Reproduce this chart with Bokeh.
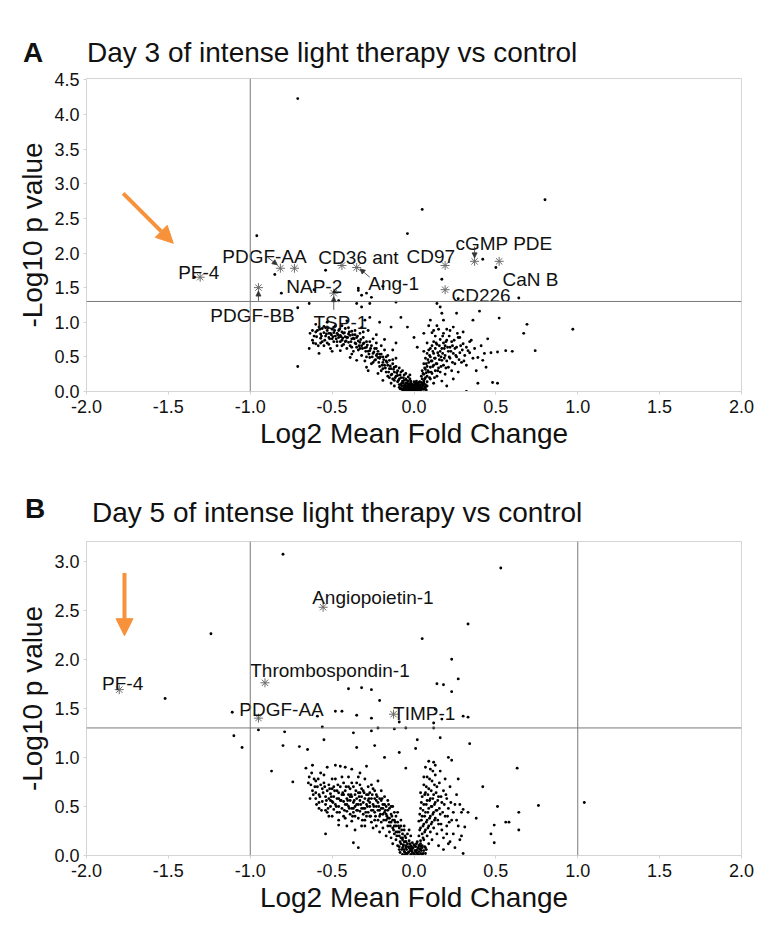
from bokeh.plotting import figure
from bokeh.layouts import column
from bokeh.models import Range1d, Span, Arrow, NormalHead, ColumnDataSource, FixedTicker, Div
from bokeh.embed import file_html
from bokeh.resources import INLINE
from bokeh.core.properties import value

FONT = "Liberation Sans"

# ---------------- Panel A data (Day 3) ----------------
A_scatter = [(-0.71,4.23),(0.80,2.77),(0.05,2.63),(-0.04,2.28),(-0.96,2.25),(-1.34,1.65),(-0.85,1.69),
             (-0.81,1.42),(-0.71,1.21),(-0.71,0.36),(-0.61,1.47),(-0.64,1.27),(-0.54,1.75),(-0.46,1.31),
             (-0.34,1.49),(-0.32,1.39),(-0.19,1.52),(0.17,1.62),(0.27,1.34),(0.42,1.91),(0.50,1.79),
             (0.64,1.35),(0.97,0.90),(0.69,0.97),(0.67,0.84),(0.52,1.06),(0.40,1.16),(0.74,0.59),
             (0.60,0.58),(0.56,0.59),(0.51,0.57),(0.48,0.13),(0.51,0.12),(0.39,0.12),(0.45,0.76),
             (0.32,0.00),(-0.26,1.36),(-0.29,1.42),(-0.35,1.27),(-0.32,1.22),(-0.34,1.46),(-0.27,1.27),
             (-0.11,1.29),(0.47,0.56)]
A_left_arm = [(-0.64,0.62),(-0.62,0.74),(-0.61,0.80),(-0.60,0.69),(-0.59,0.88),(-0.58,0.93),(-0.58,0.55),
              (-0.57,0.83),(-0.56,0.91),(-0.56,0.72),(-0.55,0.85),(-0.55,0.66),(-0.62,0.88),(-0.60,0.97),
              (-0.57,0.77),(-0.54,0.80),(-0.54,0.92),(-0.53,0.88),(-0.53,0.70),(-0.52,0.78),(-0.52,0.84),
              (-0.51,0.84),(-0.51,0.62),(-0.50,0.90),(-0.50,0.76),(-0.49,0.85),(-0.49,0.72),(-0.48,0.80),
              (-0.48,0.95),(-0.47,0.84),(-0.47,0.66),(-0.46,0.78),(-0.46,0.88),(-0.45,0.81),(-0.45,0.59),
              (-0.45,0.72),(-0.53,1.00),(-0.50,0.58),(-0.44,0.86),(-0.44,0.74),(-0.43,0.84),(-0.43,0.68),
              (-0.42,0.79),(-0.42,0.91),(-0.41,0.78),(-0.41,0.62),(-0.40,0.83),(-0.40,0.71),(-0.39,0.81),
              (-0.39,0.49),(-0.39,0.66),(-0.38,0.76),(-0.38,0.87),(-0.37,0.77),(-0.37,0.58),(-0.36,0.70),
              (-0.36,0.82),(-0.35,0.78),(-0.35,0.45),(-0.35,0.64),(-0.44,0.95),(-0.41,1.02),(-0.38,0.54),
              (-0.34,0.73),(-0.34,0.60),(-0.33,0.71),(-0.33,0.84),(-0.32,0.66),(-0.32,0.52),(-0.31,0.69),
              (-0.31,0.78),(-0.30,0.63),(-0.30,1.03),(-0.30,0.44),(-0.29,0.64),(-0.29,0.35),(-0.29,0.72),
              (-0.28,0.58),(-0.28,0.88),(-0.27,0.59),(-0.27,1.07),(-0.27,0.49),(-0.26,0.66),(-0.26,0.40),
              (-0.25,0.55),(-0.25,0.76),(-0.32,0.92),(-0.28,0.30),(-0.24,0.62),(-0.24,0.45),(-0.23,0.52),
              (-0.23,0.70),(-0.22,0.49),(-0.22,0.26),(-0.22,0.58),(-0.21,0.48),(-0.21,1.00),(-0.21,0.36),
              (-0.20,0.54),(-0.20,0.66),(-0.20,0.30),(-0.19,0.42),(-0.19,0.16),(-0.19,0.50),(-0.18,0.38),
              (-0.18,0.60),(-0.17,0.44),(-0.17,0.28),(-0.16,0.38),(-0.16,0.22),(-0.16,0.52),(-0.15,0.33),
              (-0.15,0.45),(-0.23,0.82),(-0.18,0.75),(-0.14,0.33),(-0.14,0.12),(-0.14,0.93),(-0.14,0.24),
              (-0.13,0.40),(-0.13,0.18),(-0.12,0.28),(-0.12,0.35),(-0.12,0.08),(-0.11,0.22),(-0.11,0.48),
              (-0.10,0.23),(-0.10,0.14),(-0.10,0.30),(-0.09,0.18),(-0.09,0.06),(-0.08,0.20),(-0.08,1.07),
              (-0.08,0.10),(-0.08,0.28),(-0.07,0.15),(-0.07,0.04),(-0.06,0.16),(-0.06,0.08),(-0.06,0.24),
              (-0.05,0.12),(-0.05,0.03),(-0.05,0.18),(-0.13,0.60),(-0.11,0.70),(-0.04,0.93),(0.00,0.78),
              (0.02,0.64)]
A_left_band = [(-0.635,0.84),(-0.615,0.70),(-0.595,0.79),(-0.585,0.66),(-0.575,0.90),(-0.565,0.80),
               (-0.545,0.74),(-0.535,0.83),(-0.525,0.92),(-0.515,0.76),(-0.505,0.82),(-0.495,0.79),
               (-0.485,0.88),(-0.475,0.76),(-0.465,0.82),(-0.455,0.90),(-0.445,0.79),(-0.435,0.77),
               (-0.425,0.85),(-0.415,0.73),(-0.405,0.78),(-0.395,0.86),(-0.385,0.72),(-0.375,0.82),
               (-0.365,0.76),(-0.355,0.69),(-0.345,0.80),(-0.335,0.66),(-0.325,0.75),(-0.315,0.62),
               (-0.305,0.70),(-0.295,0.58),(-0.285,0.67),(-0.275,0.54),(-0.265,0.62),(-0.255,0.50),
               (-0.245,0.57),(-0.235,0.46),(-0.225,0.54),(-0.215,0.42),(-0.205,0.50),(-0.195,0.38),
               (-0.185,0.46),(-0.175,0.34),(-0.165,0.42),(-0.155,0.28),(-0.145,0.37),(-0.135,0.25),
               (-0.125,0.32),(-0.115,0.20),(-0.105,0.27),(-0.095,0.16),(-0.085,0.24),(-0.075,0.12),
               (-0.065,0.20),(-0.055,0.09),(-0.045,0.16),(-0.035,0.21),(-0.025,0.24),
               (-0.60,0.86),(-0.57,0.70),(-0.55,0.94),(-0.52,0.68),(-0.49,0.93),(-0.47,0.72),(-0.44,0.66),
               (-0.42,0.72),(-0.40,0.92),(-0.38,0.64),(-0.36,0.88),(-0.33,0.62),(-0.31,0.86),(-0.29,0.50),
               (-0.27,0.72),(-0.25,0.42),(-0.23,0.62),(-0.21,0.54),(-0.19,0.33),(-0.17,0.50),(-0.15,0.20),
               (-0.13,0.46),(-0.12,0.16),(-0.11,0.36),(-0.09,0.34),(-0.08,0.04),(-0.07,0.30),(-0.06,0.02),
               (-0.05,0.26)]
A_core = [(-0.04,0.12),(-0.04,0.05),(-0.04,0.02),(-0.04,0.09),(-0.03,0.07),(-0.03,0.11),(-0.03,0.01),
          (-0.03,0.04),(-0.02,0.09),(-0.02,0.03),(-0.02,0.06),(-0.02,0.13),(-0.01,0.02),(-0.01,0.05),
          (-0.01,0.08),(-0.01,0.00),(0.00,0.03),(0.00,0.06),(0.00,0.01),(0.00,0.10),(0.01,0.02),
          (0.01,0.05),(0.01,0.08),(0.01,0.00),(0.02,0.04),(0.02,0.07),(0.02,0.01),(0.02,0.12),
          (0.03,0.03),(0.03,0.06),(0.03,0.10),(0.04,0.02),(0.04,0.08),(0.04,0.05),(0.05,0.04),
          (0.05,0.11),(-0.035,0.15),(-0.025,0.18),(-0.015,0.11),(0.005,0.13),(0.015,0.15),(0.025,0.09),
          (0.035,0.14),(-0.045,0.07),(-0.005,0.04),(0.045,0.13),
          (-0.09,0.10),(-0.085,0.04),(-0.075,0.08),(-0.07,0.02),(-0.065,0.12),(-0.06,0.05),(-0.055,0.00),
          (-0.05,0.07),(-0.045,0.03),(-0.035,0.05),(-0.03,0.09),(-0.025,0.02),(-0.02,0.15),(-0.015,0.07),
          (-0.01,0.10),(-0.005,0.01),(0.005,0.07),(0.01,0.11),(0.015,0.04),(0.02,0.09),(0.025,0.03),
          (0.03,0.13),(0.035,0.02),(0.04,0.10),(0.045,0.00),(0.05,0.06),(0.055,0.09),(0.06,0.03),
          (0.065,0.07),(0.07,0.05),(0.075,0.02),(0.08,0.08),(-0.04,0.00),(0.00,0.14),(0.06,0.12)]
A_right_arm = [(0.05,0.18),(0.05,0.30),(0.06,0.15),(0.06,0.40),(0.06,0.84),(0.06,0.25),(0.07,0.20),
               (0.07,0.48),(0.07,0.32),(0.07,0.10),(0.08,0.36),(0.08,0.22),(0.08,0.55),(0.08,0.14),
               (0.09,0.95),(0.09,0.28),(0.09,0.42),(0.09,0.60),(0.10,1.03),(0.10,0.18),(0.10,0.35),
               (0.10,0.50),(0.11,0.85),(0.11,0.26),(0.11,0.66),(0.11,0.44),(0.12,0.38),(0.12,0.12),
               (0.12,0.72),(0.12,0.55),(0.13,0.30),(0.13,0.48),(0.13,0.80),(0.13,0.62),(0.14,1.27),
               (0.14,0.40),(0.14,0.22),(0.14,0.68),(0.15,0.52),(0.15,0.90),(0.15,0.34),(0.16,1.22),
               (0.16,0.58),(0.16,0.28),(0.16,0.75),(0.17,1.13),(0.17,0.45),(0.17,0.62),(0.17,0.15),
               (0.18,1.03),(0.18,0.70),(0.18,0.38),(0.18,0.84),(0.19,0.52),(0.19,0.25),(0.19,0.66),
               (0.20,0.74),(0.20,0.44),(0.20,0.90),(0.20,0.08),(0.21,0.58),(0.21,0.35),(0.22,0.88),
               (0.22,0.64),(0.22,0.48),(0.23,0.30),(0.23,0.72),(0.24,0.93),(0.24,0.55),(0.24,0.18),
               (0.25,0.62),(0.25,0.40),(0.26,1.13),(0.26,0.64),(0.26,0.50),(0.27,0.78),(0.27,0.28),
               (0.28,0.78),(0.28,0.56),(0.29,0.42),(0.30,0.69),(0.30,0.86),(0.31,0.52),(0.32,0.38),
               (0.33,0.59),(0.34,0.72),(0.35,0.74),(0.36,1.03),(0.36,0.48),(0.37,0.62),(0.38,0.30),
               (0.39,0.49),(0.41,0.66),(0.42,0.45),(0.43,0.55),(0.44,0.35)]
A_right_band = [(0.045,0.22),(0.055,0.26),(0.055,0.12),(0.065,0.34),(0.065,0.18),(0.075,0.40),(0.075,0.27),
                (0.085,0.30),(0.085,0.46),(0.095,0.20),(0.095,0.52),(0.105,0.44),(0.105,0.28),(0.115,0.58),
                (0.115,0.36),(0.125,0.48),(0.125,0.20),(0.135,0.70),(0.135,0.40),(0.145,0.56),(0.145,0.30),
                (0.155,0.46),(0.155,0.66),(0.165,0.50),(0.165,0.36),(0.175,0.80),(0.175,0.55),(0.185,0.48),
                (0.185,0.62),(0.195,0.72),(0.195,0.34),(0.205,0.64),(0.215,0.80),(0.215,0.50),(0.225,0.58),
                (0.235,0.42),(0.235,0.66),(0.245,0.74),(0.255,0.52),(0.265,0.84),(0.275,0.46),(0.285,0.66),
                (0.295,0.60),(0.305,0.44),(0.32,0.64),(0.34,0.56),(0.10,0.62),(0.12,0.88),(0.14,0.95),
                (0.08,0.70),(0.06,0.58)]
A_genes = ["PF-4", "PDGF-AA", "NAP-2", "PDGF-BB", "TSP-1", "CD36 ant", "Ang-1", "CD97", "cGMP PDE", "CaN B", "CD226"]
A_gene_x = [-1.306, -0.816, -0.73, -0.95, -0.49, -0.44, -0.35, 0.19, 0.37, 0.52, 0.19]
A_gene_y = [1.65, 1.78, 1.78, 1.50, 1.42, 1.82, 1.79, 1.82, 1.88, 1.88, 1.47]

# ---------------- Panel B data (Day 5) ----------------
B_scatter = [(-1.52,1.60),(-1.11,1.46),(-1.10,1.22),(-1.05,1.10),(-0.95,1.28),(-0.87,0.86),(-0.79,1.26),
             (-0.80,1.12),(-0.74,0.75),(-0.70,1.11),(-0.65,1.08),(-0.59,1.42),(-0.56,1.31),(-0.55,1.18),
             (-0.48,1.47),(-0.44,1.47),(-0.40,1.70),(-0.32,1.71),(-0.26,1.69),(-0.21,1.58),(-0.35,1.43),
             (-0.26,1.40),(-0.22,1.30),(-0.37,1.25),(-0.26,1.27),(-0.54,0.22),(-0.46,0.31),(-0.37,0.13),
             (-0.34,0.08),(-0.58,0.54),(-0.29,0.91),(-0.35,1.10),(-0.24,1.12),(-0.18,1.00),
             (-1.24,2.26),(-0.80,3.07),(0.53,2.93),(0.33,2.36),(0.05,2.21),(0.23,2.00),(0.27,1.80),
             (0.14,1.75),(0.18,1.74),(0.23,1.67),(0.30,1.42),(0.33,1.41),(0.17,1.39),(0.13,1.49),
             (0.12,1.35),(0.12,1.30),(-0.05,1.30),(-0.12,1.29),(-0.09,1.36),(0.02,1.18),(0.16,1.20),
             (0.34,1.14),(0.63,0.89),(0.42,0.70),(1.04,0.54),(0.76,0.51),(0.64,0.44),(0.51,0.50),
             (0.56,0.34),(0.58,0.34),(0.49,0.31),(0.47,0.22),(0.64,0.26),(0.49,0.13),(0.38,0.38),
             (0.33,0.44),(0.30,0.47),(0.27,0.78),(0.21,1.00),(0.23,0.97),(0.31,0.29),(0.29,0.20),
             (0.30,0.02),(0.01,1.09),(-0.05,0.89),(-0.09,1.05)]
B_left_arm = [(-0.66,0.89),(-0.64,0.80),(-0.63,0.72),(-0.62,0.66),(-0.61,0.78),(-0.60,0.58),(-0.59,0.70),
              (-0.58,0.62),(-0.57,0.84),(-0.56,0.55),(-0.56,0.68),(-0.55,0.74),(-0.62,0.92),(-0.60,0.76),
              (-0.54,0.60),(-0.54,0.52),(-0.53,0.66),(-0.53,0.44),(-0.52,0.72),(-0.52,0.58),(-0.51,0.50),
              (-0.51,0.63),(-0.50,0.40),(-0.50,0.55),(-0.50,0.68),(-0.49,0.47),(-0.49,0.60),(-0.48,0.52),
              (-0.48,0.78),(-0.47,0.58),(-0.47,0.44),(-0.46,0.64),(-0.46,0.36),(-0.46,0.50),(-0.45,0.56),
              (-0.45,0.70),(-0.53,0.90),(-0.48,0.92),(-0.45,0.91),(-0.44,0.48),(-0.44,0.62),(-0.43,0.55),
              (-0.43,0.40),(-0.43,0.74),(-0.42,0.52),(-0.42,0.66),(-0.41,0.45),(-0.41,0.58),(-0.41,0.30),
              (-0.40,0.62),(-0.40,0.50),(-0.40,0.80),(-0.39,0.56),(-0.39,0.42),(-0.39,0.68),(-0.38,0.48),
              (-0.38,0.60),(-0.38,0.35),(-0.37,0.54),(-0.37,0.70),(-0.37,0.44),(-0.36,0.62),(-0.36,0.50),
              (-0.36,0.26),(-0.35,0.58),(-0.35,0.46),(-0.35,0.74),(-0.42,0.90),(-0.38,0.88),(-0.34,0.52),
              (-0.34,0.64),(-0.34,0.38),(-0.33,0.56),(-0.33,0.45),(-0.33,0.72),(-0.32,0.60),(-0.32,0.48),
              (-0.32,0.30),(-0.31,0.54),(-0.31,0.66),(-0.31,0.42),(-0.30,0.58),(-0.30,0.36),(-0.30,0.78),
              (-0.30,0.48),(-0.29,0.62),(-0.29,0.52),(-0.28,0.44),(-0.28,0.56),(-0.28,0.70),(-0.27,0.40),
              (-0.27,0.50),(-0.27,0.64),(-0.26,0.58),(-0.26,0.34),(-0.26,0.46),(-0.25,0.52),(-0.25,0.68),
              (-0.25,0.28),(-0.33,0.84),(-0.24,0.44),(-0.24,0.58),(-0.24,0.36),(-0.23,0.50),(-0.23,0.62),
              (-0.23,0.30),(-0.22,0.46),(-0.22,0.54),(-0.22,0.76),(-0.21,0.40),(-0.21,0.58),(-0.21,0.24),
              (-0.20,0.48),(-0.20,0.34),(-0.20,0.66),(-0.19,0.52),(-0.19,0.42),(-0.19,0.28),(-0.18,0.44),
              (-0.18,0.60),(-0.17,0.36),(-0.17,0.50),(-0.17,0.20),(-0.16,0.46),(-0.16,0.30),(-0.16,0.56),
              (-0.15,0.38),(-0.15,0.24),(-0.15,0.48),(-0.14,0.34),(-0.14,0.42),(-0.14,0.18),(-0.13,0.28),
              (-0.13,0.50),(-0.13,0.12),(-0.12,0.36),(-0.12,0.22),(-0.12,0.44),(-0.11,0.30),(-0.11,0.16),
              (-0.11,0.40),(-0.10,0.24),(-0.10,0.10),(-0.10,0.34),(-0.09,0.20),(-0.09,0.28),(-0.09,0.06),
              (-0.08,0.18),(-0.08,0.30),(-0.08,0.12),(-0.07,0.22),(-0.07,0.08),(-0.07,0.16),(-0.06,0.14),
              (-0.06,0.26),(-0.06,0.04),(-0.05,0.10),(-0.05,0.18),(-0.05,0.02)]
B_left_cloud = [(-0.645,0.74),(-0.635,0.58),(-0.625,0.84),(-0.615,0.62),(-0.605,0.70),(-0.595,0.52),
                (-0.585,0.78),(-0.575,0.60),(-0.565,0.46),(-0.555,0.64),(-0.545,0.70),(-0.535,0.56),
                (-0.525,0.48),(-0.515,0.68),(-0.505,0.60),(-0.495,0.54),(-0.485,0.66),(-0.475,0.50),
                (-0.465,0.72),(-0.455,0.44),(-0.445,0.56),(-0.435,0.64),(-0.425,0.46),(-0.415,0.70),
                (-0.405,0.56),(-0.395,0.48),(-0.385,0.62),(-0.375,0.40),(-0.365,0.56),(-0.355,0.66),
                (-0.345,0.46),(-0.335,0.60),(-0.325,0.52),(-0.315,0.36),(-0.305,0.64),(-0.295,0.44),
                (-0.285,0.50),(-0.275,0.58),(-0.265,0.40),(-0.255,0.62),(-0.245,0.50),(-0.235,0.40),
                (-0.225,0.60),(-0.215,0.50),(-0.205,0.42),(-0.195,0.58),(-0.185,0.36),(-0.175,0.46),
                (-0.165,0.40),(-0.155,0.52),(-0.145,0.30),(-0.135,0.40),(-0.125,0.26),(-0.115,0.34),
                (-0.105,0.20),(-0.095,0.30),(-0.085,0.14),(-0.075,0.26),(-0.065,0.10),(-0.055,0.20),
                (-0.58,0.48),(-0.55,0.82),(-0.52,0.40),(-0.50,0.78),(-0.47,0.66),(-0.44,0.80),(-0.42,0.38),
                (-0.40,0.70),(-0.38,0.74),(-0.36,0.40),(-0.34,0.80),(-0.32,0.68),(-0.30,0.30),(-0.28,0.62),
                (-0.26,0.72),(-0.24,0.66),(-0.22,0.36),(-0.20,0.56),(-0.18,0.52),(-0.16,0.38),(-0.14,0.50),
                (-0.12,0.30),(-0.10,0.44),(-0.08,0.36),(-0.06,0.30),(-0.04,0.22),(-0.03,0.26),(-0.02,0.20),
                (-0.60,0.64),(-0.57,0.72),(-0.54,0.46),(-0.51,0.56),(-0.49,0.70),(-0.46,0.58),(-0.43,0.62),
                (-0.41,0.52),(-0.39,0.60),(-0.37,0.48),(-0.35,0.52),(-0.33,0.64),(-0.31,0.48),(-0.29,0.40),
                (-0.27,0.54),(-0.25,0.46),(-0.23,0.56),(-0.21,0.46),(-0.19,0.48),(-0.17,0.42),(-0.15,0.34),
                (-0.13,0.36),(-0.11,0.24),(-0.09,0.24),(-0.07,0.18),(-0.05,0.14)]
B_core = [(-0.045,0.06),(-0.04,0.12),(-0.04,0.02),(-0.035,0.09),(-0.03,0.04),(-0.03,0.15),(-0.025,0.07),
          (-0.02,0.01),(-0.02,0.10),(-0.015,0.05),(-0.01,0.13),(-0.01,0.03),(-0.005,0.08),(0.00,0.02),
          (0.00,0.11),(0.005,0.05),(0.01,0.00),(0.01,0.09),(0.015,0.03),(0.02,0.14),(0.02,0.06),
          (0.025,0.01),(0.03,0.10),(0.03,0.04),(0.035,0.07),(0.04,0.12),(0.04,0.02),(0.045,0.05),
          (0.05,0.08),(-0.05,0.14),(-0.06,0.00),(0.055,0.02),
          (-0.09,0.09),(-0.085,0.03),(-0.075,0.06),(-0.07,0.01),(-0.065,0.11),(-0.06,0.06),(-0.055,0.03),
          (-0.05,0.08),(-0.045,0.00),(-0.035,0.03),(-0.03,0.08),(-0.025,0.12),(-0.02,0.05),(-0.015,0.09),
          (-0.01,0.07),(-0.005,0.00),(0.005,0.10),(0.01,0.05),(0.015,0.12),(0.02,0.02),(0.025,0.08),
          (0.03,0.00),(0.035,0.11),(0.04,0.06),(0.045,0.09),(0.05,0.01),(0.06,0.05),(0.065,0.09),
          (0.07,0.02),(0.075,0.06)]
B_right_arm = [(0.03,0.20),(0.03,0.35),(0.04,0.15),(0.04,0.48),(0.04,0.28),(0.05,0.10),(0.05,0.40),
               (0.05,0.60),(0.05,0.22),(0.06,0.32),(0.06,0.52),(0.06,0.16),(0.06,0.72),(0.07,0.26),
               (0.07,0.44),(0.07,0.64),(0.07,0.08),(0.08,0.36),(0.08,0.56),(0.08,0.20),(0.08,0.80),
               (0.09,0.30),(0.09,0.48),(0.09,0.68),(0.09,0.12),(0.10,0.40),(0.10,0.58),(0.10,0.24),
               (0.10,0.88),(0.11,0.34),(0.11,0.50),(0.11,0.76),(0.11,0.16),(0.12,0.44),(0.12,0.62),
               (0.12,0.28),(0.12,0.95),(0.13,0.38),(0.13,0.54),(0.13,0.82),(0.14,0.22),(0.14,0.46),
               (0.14,0.70),(0.15,0.32),(0.15,0.60),(0.15,0.10),(0.16,0.42),(0.16,0.86),(0.17,0.26),
               (0.17,0.54),(0.18,0.66),(0.18,0.18),(0.19,0.40),(0.19,0.78),(0.20,0.30),(0.20,0.58),
               (0.21,0.12),(0.21,0.48),(0.22,0.70),(0.23,0.36),(0.24,0.22),(0.25,0.52),(0.26,0.62),
               (0.27,0.30),(0.28,0.16),(0.29,0.44)]
B_right_column = [(0.035,0.26),(0.035,0.42),(0.045,0.36),(0.045,0.54),(0.055,0.30),(0.055,0.46),(0.055,0.18),
                  (0.065,0.40),(0.065,0.62),(0.065,0.24),(0.075,0.52),(0.075,0.34),(0.075,0.70),(0.085,0.44),
                  (0.085,0.28),(0.085,0.62),(0.095,0.38),(0.095,0.56),(0.095,0.78),(0.105,0.50),(0.105,0.32),
                  (0.105,0.66),(0.115,0.42),(0.115,0.58),(0.115,0.86),(0.125,0.36),(0.125,0.52),(0.125,0.72),
                  (0.135,0.46),(0.135,0.64),(0.145,0.56),(0.145,0.36),(0.155,0.48),(0.155,0.74),(0.165,0.60),
                  (0.165,0.32),(0.175,0.44),(0.185,0.52),(0.195,0.62),(0.205,0.40),(0.215,0.34),(0.225,0.54),
                  (0.24,0.44),(0.26,0.36),(0.28,0.52),(0.07,0.90),(0.09,0.96),(0.13,0.92),(0.04,0.64),
                  (0.06,0.80),(0.22,0.14),(0.25,0.08),(0.18,0.06),(0.20,0.22)]
B_genes = ["PF-4", "Thrombospondin-1", "PDGF-AA", "Angiopoietin-1", "TIMP-1"]
B_gene_x = [-1.80, -0.91, -0.95, -0.555, -0.125]
B_gene_y = [1.69, 1.76, 1.40, 2.53, 1.44]

x_ticks = [-2.0, -1.5, -1.0, -0.5, 0.0, 0.5, 1.0, 1.5, 2.0]
A_y_ticks = [0.0, 0.5, 1.0, 1.5, 2.0, 2.5, 3.0, 3.5, 4.0, 4.5]
B_y_ticks = [0.0, 0.5, 1.0, 1.5, 2.0, 2.5, 3.0]
threshold = 1.3

ORANGE = "#F7923A"
W = 772
HEAD_H = 69


def header(letter, title, lx, ly, tx, ty):
    span = ("position:absolute;white-space:nowrap;line-height:1;color:#111111;"
            "font-family:'Liberation Sans',Arial,sans-serif;")
    html = (f"<div style=\"position:relative;width:{W}px;height:{HEAD_H}px;\">"
            f"<span style=\"{span}left:{lx}px;top:{ly}px;font-size:28px;font-weight:bold;\">{letter}</span>"
            f"<span style=\"{span}left:{tx}px;top:{ty}px;font-size:28px;\">{title}</span></div>")
    return Div(text=html, width=W, height=HEAD_H, margin=0)


def make_panel(height, top, bottom, ymax, yticks, vlines, pts_groups):
    p = figure(width=W, height=height, x_range=Range1d(-2, 2), y_range=Range1d(0, ymax),
               output_backend="svg", toolbar_location=None,
               min_border_left=86, min_border_right=31, min_border_top=top, min_border_bottom=bottom)
    p.grid.visible = False
    p.outline_line_color = "#d4d4d4"
    p.xaxis.ticker = FixedTicker(ticks=x_ticks)
    p.yaxis.ticker = FixedTicker(ticks=yticks)
    p.xaxis.major_label_overrides = {t: f"{t:.1f}" for t in x_ticks}
    p.yaxis.major_label_overrides = {t: f"{t:.1f}" for t in yticks}
    for ax in (p.xaxis, p.yaxis):
        ax.axis_line_color = "#d4d4d4"
        ax.major_tick_line_color = "#d4d4d4"
        ax.major_tick_out = 3
        ax.major_tick_in = 0
        ax.minor_tick_line_color = None
        ax.major_label_text_font = FONT
        ax.major_label_text_font_size = "18px"
        ax.major_label_text_color = "#111111"
        ax.axis_label_text_font = FONT
        ax.axis_label_text_font_size = "28px"
        ax.axis_label_text_font_style = "normal"
        ax.axis_label_text_color = "#111111"
    p.xaxis.axis_label = "Log2 Mean Fold Change"
    p.yaxis.axis_label = "-Log10 p value"
    p.xaxis.major_label_standoff = 5
    p.xaxis.axis_label_standoff = 2
    p.yaxis.major_label_standoff = 4
    p.yaxis.axis_label_standoff = 3
    for v in vlines:
        p.add_layout(Span(location=v, dimension="height", line_color="#7a7a7a", line_width=1))
    p.add_layout(Span(location=threshold, dimension="width", line_color="#7a7a7a", line_width=1))
    xs, ys = [], []
    for g in pts_groups:
        xs += [q[0] for q in g]
        ys += [q[1] for q in g]
    p.scatter(xs, ys, size=2.9, color="black", line_color=None)
    return p


def add_genes(p, names, gx, gy, lx, ly):
    p.scatter(gx, gy, marker="asterisk", size=9, line_color="#6a6a6a", line_width=1)
    src = ColumnDataSource(dict(x=lx, y=ly, t=names))
    p.text(x="x", y="y", text="t", source=src, text_font=value(FONT), text_font_size="19px",
           text_color="#111111", text_baseline="alphabetic", text_align="left")


def small_arrow(p, x0, y0, x1, y1):
    p.add_layout(Arrow(end=NormalHead(size=5, fill_color="#333333", line_color="#333333", line_width=0.8),
                       x_start=x0, y_start=y0, x_end=x1, y_end=y1, line_color="#333333", line_width=0.8))


def orange_arrow(p, x0, y0, x1, y1):
    p.add_layout(Arrow(end=NormalHead(size=17, fill_color=ORANGE, line_color=ORANGE, line_width=1),
                       x_start=x0, y_start=y0, x_end=x1, y_end=y1, line_color=ORANGE, line_width=4))


# ---- Panel A ----
hA = header("A", "Day 3 of intense light therapy vs control", 23, 39, 87, 39)
pA = make_panel(394, 9, 72, 4.52, A_y_ticks, [-1.0],
                [A_scatter, A_left_arm, A_left_band, A_core, A_right_arm, A_right_band])
A_lab_x = [-1.44, -1.171, -0.78, -1.244, -0.614, -0.584, -0.279, -0.046, 0.253, 0.54, 0.229]
A_lab_y = [1.72, 1.95, 1.52, 1.10, 1.00, 1.94, 1.56, 1.95, 2.14, 1.62, 1.39]
add_genes(pA, A_genes, A_gene_x, A_gene_y, A_lab_x, A_lab_y)
small_arrow(pA, -0.895, 1.94, -0.835, 1.83)
small_arrow(pA, -0.95, 1.31, -0.95, 1.45)
small_arrow(pA, -0.49, 1.18, -0.49, 1.37)
small_arrow(pA, -0.27, 1.65, -0.33, 1.77)
small_arrow(pA, 0.37, 2.09, 0.37, 1.93)
orange_arrow(pA, -1.776, 2.86, -1.47, 2.14)

# ---- Panel B ----
hB = header("B", "Day 5 of intense light therapy vs control", 25, 32, 92, 36)
pB = make_panel(390, 9, 67, 3.2, B_y_ticks, [-1.0, 1.0],
                [B_scatter, B_left_arm, B_left_cloud, B_core, B_right_arm, B_right_column])
B_lab_x = [-1.905, -1.0, -1.067, -0.622, -0.128]
B_lab_y = [1.75, 1.89, 1.49, 2.63, 1.45]
add_genes(pB, B_genes, B_gene_x, B_gene_y, B_lab_x, B_lab_y)
orange_arrow(pB, -1.768, 2.88, -1.768, 2.24)

layout = column(hA, pA, hB, pB, spacing=0)
open("out.html", "w").write(file_html(layout, INLINE))
